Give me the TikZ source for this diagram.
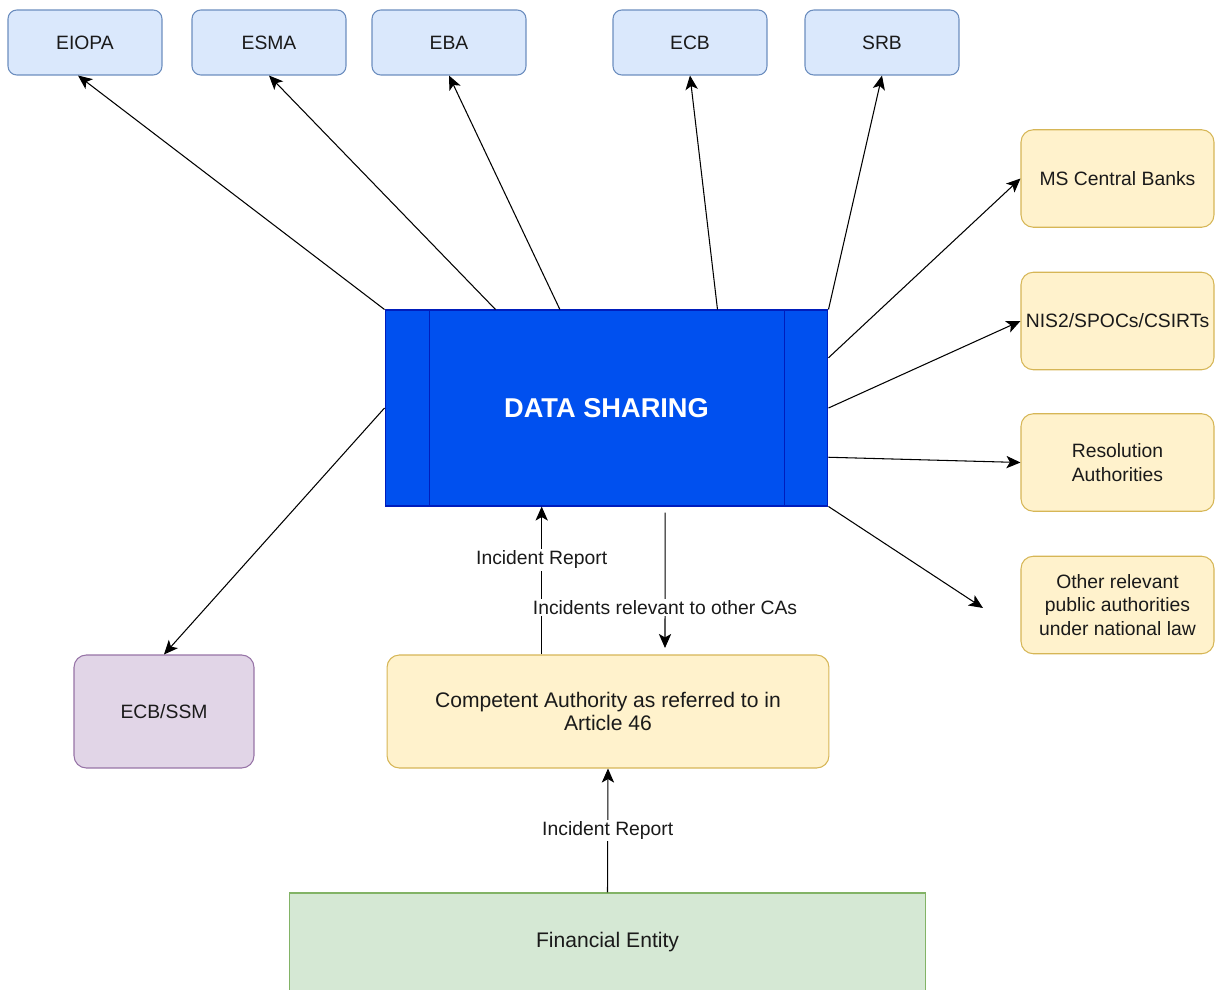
\documentclass[tikz,border=0pt]{standalone}
\usepackage{fontspec}
\setmainfont{Liberation Sans}
\usetikzlibrary{arrows.meta,calc}
\definecolor{bluefill}{HTML}{DAE8FC}
\definecolor{blueline}{HTML}{6C8EBF}
\definecolor{yellowfill}{HTML}{FFF2CC}
\definecolor{yellowline}{HTML}{D6B656}
\definecolor{purplefill}{HTML}{E1D5E7}
\definecolor{purpleline}{HTML}{9673A6}
\definecolor{greenfill}{HTML}{D5E8D4}
\definecolor{greenline}{HTML}{82B366}
\definecolor{sharefill}{HTML}{0050EF}
\definecolor{shareline}{HTML}{001DBC}
\definecolor{txt}{HTML}{1A1A1A}
\tikzset{
  box/.style={draw, rounded corners=5pt, line width=0.6pt, inner sep=0pt,
    align=center, text=txt, font=\fontsize{11}{13.5}\selectfont},
  eu/.style={box, fill=bluefill, draw=blueline, minimum width=3.08cm, minimum height=1.3cm},
  nat/.style={box, fill=yellowfill, draw=yellowline, rounded corners=7pt,
    minimum width=3.86cm, minimum height=1.95cm},
  ssm/.style={box, fill=purplefill, draw=purpleline, rounded corners=7pt,
    minimum width=3.6cm, minimum height=2.26cm},
  ca/.style={box, fill=yellowfill, draw=yellowline, rounded corners=7pt,
    minimum width=8.84cm, minimum height=2.26cm, font=\fontsize{12}{13.5}\selectfont},
  fe/.style={box, rounded corners=0pt, fill=greenfill, draw=greenline,
    minimum width=12.74cm, minimum height=1.98cm, font=\fontsize{12}{13.5}\selectfont},
  share/.style={draw=shareline, fill=sharefill, line width=0.6pt, text=white,
    minimum width=8.86cm, minimum height=3.92cm, font=\bfseries\fontsize{15.5}{18}\selectfont},
  link/.style={line width=0.6pt, -{Stealth[length=8pt,width=7pt,inset=2pt]}},
  lbl/.style={fill=white, inner sep=1pt, text=txt, font=\fontsize{11}{13}\selectfont}
}
\begin{document}
\begin{tikzpicture}[x=0.02cm, y=-0.02cm]
  \useasboundingbox (0,0) rectangle (1215,990);
  \path
    (85,42.5) node[eu] (EIOPA){EIOPA}
    (269,42.5) node[eu] (ESMA){ESMA}
    (449,42.5) node[eu] (EBA){EBA}
    (690,42.5) node[eu] (ECB){ECB}
    (882,42.5) node[eu] (SRB){SRB}
    (1117.5,178.5) node[nat] (MSCB){MS Central Banks}
    (1117.5,321) node[nat] (NIS){NIS2/SPOCs/CSIRTs}
    (1117.5,462.5) node[nat] (RES){Resolution\\Authorities}
    (1117.5,605) node[nat] (OTH){Other relevant\\public authorities\\under national law}
    (606.5,408) node[share] (DS){DATA SHARING}
    (164,711.5) node[ssm] (SSM){ECB/SSM}
    (608,711.5) node[ca] (CA){Competent Authority as referred to in\\Article 46}
    (607.5,942.5) node[fe] (FE){Financial Entity};
  \draw[shareline, line width=0.6pt] ([xshift=0.9cm]DS.north west) -- ([xshift=0.9cm]DS.south west);
  \draw[shareline, line width=0.6pt] ([xshift=-0.88cm]DS.north east) -- ([xshift=-0.88cm]DS.south east);
  \coordinate (dsin) at ($(DS.south west)!0.354!(DS.south east)$);
  \coordinate (dsout) at ($(DS.south west)!0.632!(DS.south east)$);
  \coordinate (caout) at (665,648);
  \coordinate (othend) at (983,608);
  \begin{scope}[link]
    \draw (DS.north west) to ([xshift=-0.14cm]EIOPA.south);
    \draw ($(DS.north west)!0.25!(DS.north east)$) to (ESMA.south);
    \draw ($(DS.north west)!0.395!(DS.north east)$) to (EBA.south);
    \draw ($(DS.north west)!0.75!(DS.north east)$) to (ECB.south);
    \draw (DS.north east) to (SRB.south);
    \draw ($(DS.north east)!0.245!(DS.south east)$) to (MSCB.west);
    \draw (DS.east) to (NIS.west);
    \draw ($(DS.north east)!0.75!(DS.south east)$) to (RES.west);
    \draw (DS.south east) to (othend);
    \draw (DS.west) to (SSM.north);
    \draw (CA.north -| dsin) to node[lbl, pos=0.64]{Incident Report} (dsin);
    \draw ([yshift=-0.12cm]dsout) to node[lbl, pos=0.7]{Incidents relevant to other CAs} (caout);
    \draw (FE.north) to node[lbl, midway]{Incident Report} (CA.south);
  \end{scope}
\end{tikzpicture}
\end{document}
